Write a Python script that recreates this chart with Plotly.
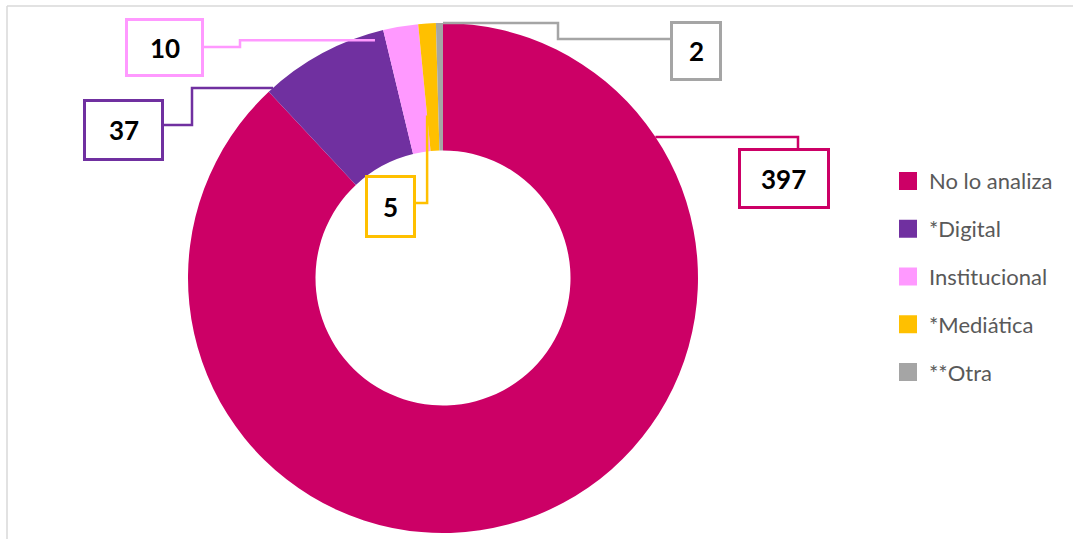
import math
import plotly.graph_objects as go

# ---- data ----
labels = ["No lo analiza", "*Digital", "Institucional", "*Mediática", "**Otra"]
values = [397, 37, 10, 5, 2]
colors = ["#CC0066", "#7030A0", "#FF99FF", "#FFC000", "#A5A5A5"]

# ---- layout constants (pixels) ----
W, H = 1073, 539
CX, CY, R = 443, 278, 255
HOLE = 0.5

# label boxes: (left, top, right, bottom)
boxes = [(738, 148, 830, 209), (83, 99, 164, 161), (125, 18, 204, 77),
         (365, 175, 416, 238), (670, 21, 722, 81)]
# anchor position inside slice: (fraction along slice, radius fraction)
anchors = [(0.178, 1.0), (0.044, 1.0), (-0.3, 0.97), (0.0, 0.64), (1.0, 1.0)]
# leader start point and elbow x
leader_start = [(798, 148), (164, 125), (204, 47), (416, 203), (670, 39)]
leader_midx = [798, 192, 240, None, 558]

# legend
LEG_X, LEG_Y0, LEG_DY, SQ = 899, 181, 47.75, 18


def px(x):
    return x / W


def py(y):
    return 1 - y / H


fig = go.Figure(go.Pie(
    labels=labels, values=values, hole=HOLE, sort=False, direction="clockwise",
    rotation=0, marker=dict(colors=colors, line=dict(width=0)),
    textinfo="none", hoverinfo="label+value", showlegend=False,
    domain=dict(x=[px(CX - R), px(CX + R)], y=[py(CY + R), py(CY - R)]),
))

shapes = []
annotations = []

# frame lines
shapes.append(dict(type="line", xref="paper", yref="paper", x0=px(7), x1=1, y0=py(6), y1=py(6),
                   line=dict(color="#D9D9D9", width=1.5)))
shapes.append(dict(type="line", xref="paper", yref="paper", x0=px(7), x1=px(7), y0=py(6), y1=0,
                   line=dict(color="#D9D9D9", width=1.5)))

total = sum(values)
cum = 0
for i, v in enumerate(values):
    a0 = cum / total * 360
    a1 = (cum + v) / total * 360
    cum += v
    f, rf = anchors[i]
    ang = math.radians(a0 + f * (a1 - a0))
    ax = CX + rf * R * math.sin(ang)
    ay = CY - rf * R * math.cos(ang)
    sx, sy = leader_start[i]
    mx = leader_midx[i] if leader_midx[i] is not None else ax
    pts = [(sx, sy), (mx, sy), (mx, ay), (ax, ay)]
    path = "M " + " L ".join(f"{px(x)},{py(y)}" for x, y in pts)
    shapes.append(dict(type="path", xref="paper", yref="paper", path=path,
                       line=dict(color=colors[i], width=2.5)))
    l, t, r, b = boxes[i]
    shapes.append(dict(type="rect", xref="paper", yref="paper",
                       x0=px(l + 1.5), x1=px(r - 1.5), y0=py(b - 1.5), y1=py(t + 1.5),
                       line=dict(color=colors[i], width=3), fillcolor="white"))
    annotations.append(dict(xref="paper", yref="paper", x=px((l + r) / 2), y=py((t + b) / 2),
                            text=str(v), showarrow=False, xanchor="center", yanchor="middle",
                            font=dict(family="Lato", size=26, color="black", weight="bold")))

# manual legend
for i, lab in enumerate(labels):
    yc = LEG_Y0 + i * LEG_DY
    shapes.append(dict(type="rect", xref="paper", yref="paper",
                       x0=px(LEG_X), x1=px(LEG_X + SQ), y0=py(yc + SQ / 2), y1=py(yc - SQ / 2),
                       line=dict(width=0), fillcolor=colors[i]))
    annotations.append(dict(xref="paper", yref="paper", x=px(LEG_X + SQ + 10), y=py(yc),
                            text=lab, showarrow=False, xanchor="left", yanchor="middle",
                            font=dict(family="Lato", size=22, color="#595959")))

fig.update_layout(width=W, height=H, margin=dict(l=0, r=0, t=0, b=0),
                  paper_bgcolor="white", plot_bgcolor="white",
                  shapes=shapes, annotations=annotations, showlegend=False)

fig.write_html("out.html", config={"displayModeBar": False},
               post_script="document.body.style.margin='0';document.body.style.overflow='hidden';")
